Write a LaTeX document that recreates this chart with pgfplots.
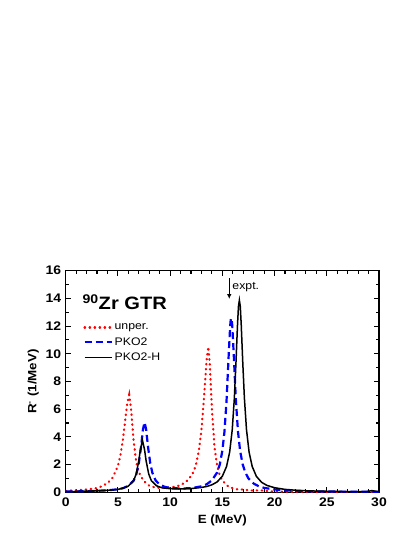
\documentclass[border=0pt]{standalone}
\usepackage{fontspec}
\setmainfont{Liberation Sans}[FakeStretch=1.12]
\usepackage{pgfplots}
\pgfplotsset{compat=1.18}
\usetikzlibrary{arrows.meta}
\begin{document}
\begin{tikzpicture}
\useasboundingbox (0bp,0bp) rectangle (415bp,537bp);
\begin{axis}[
  at={(65.7bp,44.7bp)}, anchor=south west,
  scale only axis, width=313.3bp, height=221.6bp,
  xmin=0, xmax=30, ymin=0, ymax=16,
  xtick={0,5,...,30}, ytick={0,2,...,16},
  minor x tick num=4, minor y tick num=1,
  tick align=inside,
  major tick length=5bp, minor tick length=3bp,
  axis line style={line width=1.4bp},
  every tick/.style={line width=1.1bp, black},
  /pgf/number format/assume math mode=true,
  ticklabel style={font=\fontsize{12.5}{13}\selectfont\bfseries},
  xticklabel style={yshift=-2bp},
  yticklabel style={xshift=-1bp},
  label style={font=\fontsize{12}{13}\selectfont\bfseries},
  xlabel={E (MeV)}, ylabel={R\textsuperscript{-} (1/MeV)},
  xlabel style={yshift=-1bp},
  legend style={draw=none, fill=none, at={(0.056,0.77)}, anchor=north west,
    font=\fontsize{11}{11.5}\selectfont, inner sep=0pt, row sep=2.2bp},
  legend image code/.code={\draw[#1] (0bp,0bp) -- (27bp,0bp);},
  legend cell align=left,
]
\addplot[red, line width=2.2bp, line cap=round, dash pattern=on 0.6bp off 4.4bp] coordinates {
(0,0.1)(1,0.15)(2,0.2)(3,0.3)(3.5,0.45)(4,0.66)(4.5,1.06)(5,1.9)(5.25,2.7)(5.5,3.92)(5.75,5.55)(5.9,6.45)(6.08,7.03)(6.25,6.1)(6.5,3.75)(6.75,2.2)(7,1.45)(7.25,1.1)(7.5,0.8)(8,0.47)(8.5,0.36)(9,0.32)(9.5,0.32)(10,0.34)(10.5,0.41)(11,0.52)(11.5,0.74)(12,1.16)(12.25,1.5)(12.5,2.07)(12.75,2.99)(13,4.51)(13.25,6.91)(13.5,9.62)(13.66,10.5)(13.8,9.22)(14,6.01)(14.25,3.26)(14.5,1.91)(14.75,1.23)(15,0.85)(15.5,0.47)(16,0.29)(16.5,0.2)(17,0.2)(17.5,0.15)(18,0.12)(18.5,0.15)(19,0.12)(19.5,0.08)(20,0.05)(22,0.03)(25,0.02)(30,0.01)
};
\addlegendentry{unper.}
\addplot[blue, line width=2.2bp, dash pattern=on 7bp off 4bp] coordinates {
(0,0.05)(2,0.08)(4,0.14)(5,0.22)(5.5,0.3)(6,0.47)(6.5,0.84)(6.75,1.26)(7,2.08)(7.2,3.18)(7.4,4.55)(7.55,5.05)(7.7,4.55)(7.9,3.18)(8.1,2.08)(8.3,1.41)(8.6,0.87)(9,0.55)(9.5,0.39)(10,0.32)(11,0.27)(12,0.3)(13,0.43)(13.5,0.58)(14,0.86)(14.5,1.43)(14.75,2.0)(15,3.0)(15.2,4.36)(15.4,6.59)(15.6,9.8)(15.75,12.03)(15.8,12.43)(15.85,12.57)(15.9,12.43)(15.95,12.03)(16.1,9.8)(16.3,6.59)(16.5,4.36)(16.7,3.0)(16.95,2.0)(17.2,1.43)(17.5,1.0)(18,0.63)(18.5,0.43)(19,0.32)(20,0.2)(21,0.14)(22,0.1)(24,0.07)(26,0.05)(28,0.04)(30,0.03)
};
\addlegendentry{PKO2}
\addplot[black, line width=1.5bp] coordinates {
(0,0.04)(2,0.08)(4,0.14)(5,0.21)(5.5,0.3)(6,0.45)(6.5,0.84)(6.75,1.32)(7,2.27)(7.15,3.08)(7.35,3.75)(7.55,3.08)(7.7,2.27)(7.95,1.32)(8.2,0.84)(8.7,0.47)(9.2,0.33)(10,0.26)(11,0.24)(12,0.27)(13,0.35)(13.5,0.42)(14,0.54)(14.5,0.75)(15,1.16)(15.4,1.86)(15.7,2.9)(15.95,4.54)(16.15,6.82)(16.3,9.29)(16.45,12.06)(16.54,13.4)(16.63,13.87)(16.72,13.4)(16.81,12.06)(16.96,9.29)(17.11,6.82)(17.31,4.54)(17.56,2.9)(17.86,1.86)(18.26,1.15)(18.76,0.72)(19.26,0.5)(20,0.33)(21,0.21)(22,0.15)(23,0.11)(24,0.09)(26,0.06)(28,0.05)(28.8,0.05)(29.3,0.12)(29.7,0.08)(30,0.05)
};
\addlegendentry{PKO2-H}
\node[anchor=base west, font=\fontsize{18}{18}\selectfont\bfseries, inner sep=0pt] at (axis cs:1.6,13.2) {\textsuperscript{90}Zr GTR};
\draw[-{Latex[length=5bp,width=4.5bp]}, line width=1.1bp] (axis cs:15.66,15.45) -- (axis cs:15.66,13.95);
\node[anchor=west, font=\fontsize{11}{11}\selectfont, inner sep=0pt] at (axis cs:15.95,14.85) {expt.};
\end{axis}
\end{tikzpicture}
\end{document}
